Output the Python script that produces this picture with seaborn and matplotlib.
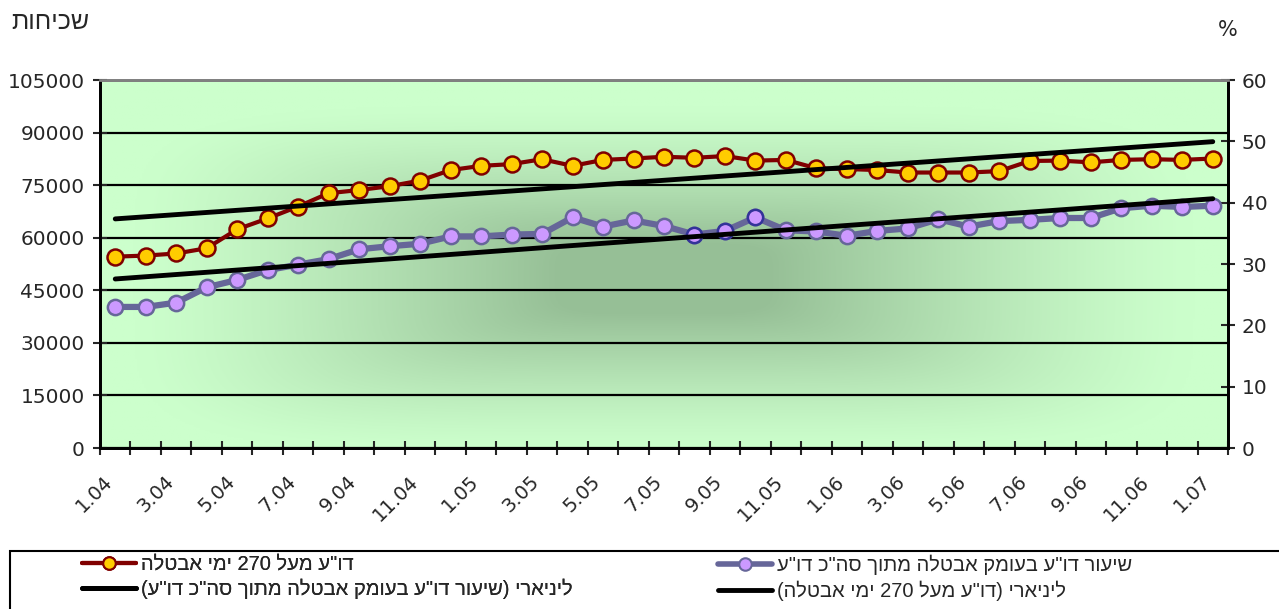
import re
import numpy as np
import pandas as pd
import seaborn as sns
import matplotlib
matplotlib.use('Agg')
import matplotlib.pyplot as plt
import matplotlib.transforms as mtrans
from matplotlib.lines import Line2D
from matplotlib.patches import Rectangle

# monthly data 1.04 - 1.07
months = ['1.04', '2.04', '3.04', '4.04', '5.04', '6.04', '7.04', '8.04', '9.04', '10.04',
          '11.04', '12.04', '1.05', '2.05', '3.05', '4.05', '5.05', '6.05', '7.05', '8.05',
          '9.05', '10.05', '11.05', '12.05', '1.06', '2.06', '3.06', '4.06', '5.06', '6.06',
          '7.06', '8.06', '9.06', '10.06', '11.06', '12.06', '1.07']
tick_labels = ['1.04', '3.04', '5.04', '7.04', '9.04', '11.04', '1.05', '3.05', '5.05', '7.05',
               '9.05', '11.05', '1.06', '3.06', '5.06', '7.06', '9.06', '11.06', '1.07']

# claimants over 270 days (left axis)
over270 = [54600, 54900, 55500, 57000, 62400, 65500, 68900, 72700, 73600, 74700,
           76300, 79300, 80500, 81000, 82400, 80500, 82200, 82600, 83100, 82800,
           83300, 82000, 82200, 79800, 79600, 79300, 78600, 78600, 78600, 79000,
           81900, 82000, 81500, 82200, 82400, 82200, 82600]
# share in deep unemployment, % (right axis)
share_pct = [23.0, 23.0, 23.7, 26.2, 27.4, 29.0, 29.9, 30.8, 32.4, 32.9,
             33.3, 34.5, 34.5, 34.8, 34.9, 37.6, 36.1, 37.1, 36.2, 34.8,
             35.4, 37.6, 35.5, 35.3, 34.6, 35.4, 35.8, 37.3, 36.1, 37.0,
             37.2, 37.5, 37.5, 39.1, 39.5, 39.3, 39.5]
highlight = ['8.05', '9.05', '10.05']

left_ticks = [0, 15000, 30000, 45000, 60000, 75000, 90000, 105000]
right_ticks = [0, 10, 20, 30, 40, 50, 60]

lab_red = 'דו"ע מעל 270 ימי אבטלה'
lab_pct = 'שיעור דו"ע בעומק אבטלה מתוך סה"כ דו"ע'
lab_tr_pct = 'ליניארי (שיעור דו"ע בעומק אבטלה מתוך סה"כ דו"ע)'
lab_tr_red = 'ליניארי (דו"ע מעל 270 ימי אבטלה)'
lab_left = 'שכיחות'
lab_right = '%'


def vis(s):
    # matplotlib has no bidi: put hebrew in visual order
    r = s[::-1]
    r = re.sub(r'\d+', lambda m: m.group(0)[::-1], r)
    return r.translate(str.maketrans('()', ')('))


sns.set_style('ticks')
plt.rcParams['font.family'] = ['DejaVu Sans']
heb_font = ['Liberation Sans', 'DejaVu Sans']

W, H = 1279, 609
fig = plt.figure(figsize=(W / 100, H / 100), dpi=100)
ax = fig.add_axes([100 / W, 1 - 448 / H, 1128 / W, 368 / H])
ax2 = ax.twinx()

df = pd.DataFrame({'x': np.arange(len(months)), 'month': months,
                   'red': over270, 'pct': share_pct})

# green "from centre" background, darker in the middle
gx, gy = np.meshgrid(np.linspace(0, 1, 500), np.linspace(0, 1, 250))
d = ((np.abs(gx - 0.5) / 0.47) ** 5 + (np.abs(gy - 0.46) / 0.47) ** 5) ** (1 / 5)
t = np.clip((1 - d) / 0.8, 0, 1) ** 1.3
edge = np.array([0.80, 1.0, 0.80])
center = np.array([0.59, 0.75, 0.59])
img = edge + (center - edge) * t[..., None]
ax.imshow(img, extent=(-0.5, len(months) - 0.5, 0, 105000), origin='lower',
          aspect='auto', zorder=0)

sns.lineplot(data=df, x='x', y='red', ax=ax, color='#800000', lw=3, marker='o',
             ms=11.5, mfc='#FFCC00', mec='#800000', mew=1.8, zorder=3, legend=False)
sns.regplot(data=df, x='x', y='red', ax=ax, scatter=False, ci=None, truncate=True,
            color='black', line_kws={'lw': 3.5, 'zorder': 5})

sns.lineplot(data=df, x='x', y='pct', ax=ax2, color='#666699', lw=4.5, marker='o',
             ms=11, mfc='#CC99FF', mec='#666699', mew=1.8, zorder=3, legend=False)
hl = df[df['month'].isin(highlight)]
ax2.plot(hl['x'], hl['pct'], ls='none', marker='o', ms=11, mfc='#CC99FF',
         mec='#333399', mew=1.8, zorder=4)
sns.regplot(data=df, x='x', y='pct', ax=ax2, scatter=False, ci=None, truncate=True,
            color='black', line_kws={'lw': 3.5, 'zorder': 5})

ax.set_xlim(-0.5, len(months) - 0.5)
ax.set_ylim(0, 105000)
ax2.set_ylim(0, 60)
ax.set_xlabel('')
ax.set_ylabel('')
ax2.set_ylabel('')

ax.set_yticks(left_ticks)
ax.set_yticklabels([str(v) for v in left_ticks])
ax2.set_yticks(right_ticks)
ax2.set_yticklabels([str(v) for v in right_ticks])
ax.grid(axis='y', color='black', lw=1.6)
ax.set_axisbelow(False)
for gl in ax.get_ygridlines():
    gl.set_zorder(1)

ax.set_xticks(df['x'][months.index(tick_labels[0])::2])
ax.set_xticklabels(tick_labels)
ax.set_xticks(np.arange(-0.5, len(months), 1), minor=True)
ax.tick_params(axis='x', which='major', length=0, pad=17, labelsize=14)
ax.tick_params(axis='x', which='minor', direction='inout', length=10, width=1.5, bottom=True)
ax.tick_params(axis='y', direction='inout', length=10, width=1.5, labelsize=14.5, pad=6,
               left=True)
ax2.tick_params(axis='y', direction='inout', length=10, width=1.5, labelsize=14.5, pad=5,
                right=True)
offset = mtrans.ScaledTranslation(-12 / 100, 0, fig.dpi_scale_trans)
for lab in ax.get_xticklabels():
    lab.set_rotation(45)
    lab.set_ha('right')
    lab.set_va('top')
    lab.set_rotation_mode('anchor')
    lab.set_transform(lab.get_transform() + offset)

for a in (ax, ax2):
    for side in ('left', 'right', 'bottom'):
        a.spines[side].set_visible(True)
        a.spines[side].set_color('black')
        a.spines[side].set_linewidth(2)
    a.spines['top'].set_visible(True)
    a.spines['top'].set_color('#808080')
    a.spines['top'].set_linewidth(2)

fig.text(50 / W, 1 - 22 / H, vis(lab_left), ha='center', va='center', fontsize=18,
         family=heb_font)
fig.text(1228 / W, 1 - 30 / H, lab_right, ha='center', va='center', fontsize=15)

# legend box and entries
fig.add_artist(Rectangle((10 / W, -0.2), 1.2, 0.2 + (609 - 551) / H,
                         transform=fig.transFigure, fill=False, ec='black', lw=1.5))
h_red = Line2D([], [], color='#800000', lw=3, marker='o', ms=9, mfc='#FFCC00',
               mec='#800000', mew=1.5)
h_pct = Line2D([], [], color='#666699', lw=4, marker='o', ms=9, mfc='#CC99FF',
               mec='#666699', mew=1.5)
h_tr = Line2D([], [], color='black', lw=3.5)
leg_kw = dict(loc='upper left', frameon=False, borderpad=0, borderaxespad=0,
              handlelength=2.7, handletextpad=0.25, labelspacing=0.25,
              prop={'family': heb_font, 'size': 14.5})
leg1 = fig.legend([h_red, h_tr], [vis(lab_red), vis(lab_tr_pct)],
                  bbox_to_anchor=(82 / W, 1 - 555 / H), **leg_kw)
fig.add_artist(leg1)
fig.legend([h_pct, h_tr], [vis(lab_pct), vis(lab_tr_red)],
           bbox_to_anchor=(718 / W, 1 - 555 / H), **leg_kw)

fig.savefig('out.png', dpi=100)
